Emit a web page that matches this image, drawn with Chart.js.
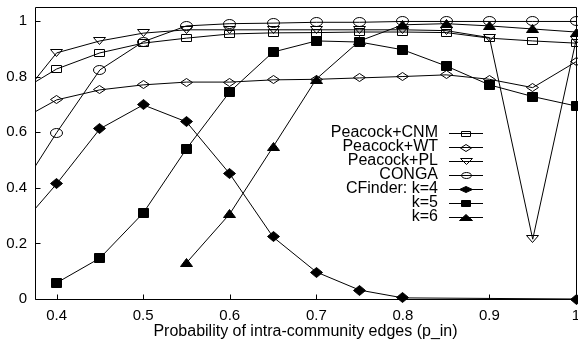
<!DOCTYPE html>
<html lang="en">
<head>
<meta charset="UTF-8" />
<title>Accuracy vs probability of intra-community edges</title>
<script src="https://cdn.jsdelivr.net/npm/chart.js@4.4.1/dist/chart.umd.min.js"></script>
<style>
  * { margin: 0; padding: 0; }
  body { background: #fff; }
  #wrap { width: 578px; height: 343px; }
</style>
</head>
<body>
<div id="wrap"><canvas id="chart" width="578" height="343"></canvas></div>
<script>
// p_in values (0.35 lies left of the visible range, lines get clipped there)
const pIn = [0.35, 0.4, 0.45, 0.5, 0.55, 0.6, 0.65, 0.7, 0.75, 0.8, 0.85, 0.9, 0.95, 1.0];
const xTicks = [0.4, 0.5, 0.6, 0.7, 0.8, 0.9, 1.0];
const yTicks = [0, 0.2, 0.4, 0.6, 0.8, 1];

const peacockCNM = [0.733, 0.827, 0.885, 0.92, 0.938, 0.953, 0.957, 0.958, 0.96, 0.96, 0.958, 0.938, 0.928, 0.92];
const peacockWT  = [0.63, 0.716, 0.752, 0.77, 0.78, 0.78, 0.788, 0.79, 0.795, 0.8, 0.806, 0.79, 0.76, 0.853];
const peacockPL  = [0.691, 0.885, 0.928, 0.956, 0.968, 0.968, 0.968, 0.968, 0.968, 0.968, 0.965, 0.94, 0.215, 0.93];
const conga      = [0.354, 0.598, 0.824, 0.925, 0.982, 0.99, 0.992, 0.995, 0.995, 0.998, 0.998, 0.998, 0.998, 0.998];
const cfinderK4  = [0.234, 0.414, 0.612, 0.698, 0.637, 0.45, 0.223, 0.097, 0.032, 0.004, null, null, null, 0.0];
const cfinderK5  = [null, 0.058, 0.147, 0.309, 0.54, 0.745, 0.888, 0.928, 0.924, 0.896, 0.838, 0.77, 0.728, 0.694];
const cfinderK6  = [null, null, null, null, 0.13, 0.306, 0.547, 0.791, 0.928, 0.986, 0.99, 0.982, 0.971, 0.96];

const FONT = '"Liberation Sans", Arial, Helvetica, sans-serif';

// gnuplot-like point symbols, a bit wider than tall like the original
function marker(shape, w, h, filled) {
  const c = document.createElement('canvas');
  c.width = w + 1;
  c.height = h + 1;
  const g = c.getContext('2d');
  const x0 = 0.5, y0 = 0.5, x1 = w + 0.5, y1 = h + 0.5;
  const cx = (x0 + x1) / 2, cy = (y0 + y1) / 2;
  g.beginPath();
  if (shape === 'square') {
    g.rect(x0, y0, w, h);
  } else if (shape === 'diamond') {
    g.moveTo(cx, y0); g.lineTo(x1, cy); g.lineTo(cx, y1); g.lineTo(x0, cy); g.closePath();
  } else if (shape === 'down') {
    g.moveTo(x0, y0); g.lineTo(x1, y0); g.lineTo(cx, y1); g.closePath();
  } else if (shape === 'up') {
    g.moveTo(cx, y0); g.lineTo(x1, y1); g.lineTo(x0, y1); g.closePath();
  } else {
    g.ellipse(cx, cy, w / 2, h / 2, 0, 0, Math.PI * 2);
  }
  g.lineWidth = 1;
  g.strokeStyle = '#000';
  g.fillStyle = '#000';
  if (filled) g.fill();
  g.stroke();
  return c;
}

const series = [
  { label: 'Peacock+CNM',  values: peacockCNM, sym: marker('square', 10, 7, false),  key: marker('square', 9, 5, false) },
  { label: 'Peacock+WT',   values: peacockWT,  sym: marker('diamond', 12, 8, false), key: marker('diamond', 11, 7, false) },
  { label: 'Peacock+PL',   values: peacockPL,  sym: marker('down', 12, 7, false),    key: marker('down', 12, 6, false) },
  { label: 'CONGA',        values: conga,      sym: marker('circle', 12, 9, false),  key: marker('circle', 10, 6, false) },
  { label: 'CFinder: k=4', values: cfinderK4,  sym: marker('diamond', 12, 10, true), key: marker('diamond', 13, 6, true) },
  { label: 'k=5',          values: cfinderK5,  sym: marker('square', 10, 9, true),   key: marker('square', 9, 6, true) },
  { label: 'k=6',          values: cfinderK6,  sym: marker('up', 12, 8, true),       key: marker('up', 13, 6, true) }
];

const datasets = series.map(s => ({
  label: s.label,
  data: pIn.map((x, i) => ({ x: x, y: s.values[i] })),
  borderColor: '#000',
  borderWidth: 1,
  pointRadius: 0,
  pointHoverRadius: 0,
  spanGaps: true,
  tension: 0,
  clip: { left: 0, top: false, right: false, bottom: false }
}));

// symbols placed on the pixel grid at the positions the scales give each point
const symbolPlugin = {
  id: 'symbols',
  afterDatasetsDraw(chart) {
    const ctx = chart.ctx;
    const a = chart.chartArea;
    series.forEach((s, i) => {
      const meta = chart.getDatasetMeta(i);
      meta.data.forEach((pt, j) => {
        if (s.values[j] === null || pt.x < a.left - 0.5) return;
        ctx.drawImage(s.sym, Math.round(pt.x - s.sym.width / 2), Math.round(pt.y - s.sym.height / 2));
      });
    });
  }
};

// border box with inward ticks on the left and bottom
const framePlugin = {
  id: 'frame',
  afterDatasetsDraw(chart) {
    const ctx = chart.ctx;
    const a = chart.chartArea;
    const xs = chart.scales.x, ys = chart.scales.y;
    const L = Math.round(a.left) + 0.5, R = Math.round(a.right) + 0.5;
    const T = Math.round(a.top) + 0.5, B = Math.round(a.bottom) + 0.5;
    ctx.save();
    ctx.strokeStyle = '#000';
    ctx.lineWidth = 1;
    ctx.beginPath();
    ctx.rect(L, T, R - L, B - T);
    xTicks.forEach(v => {
      const px = Math.round(xs.getPixelForValue(v)) + 0.5;
      ctx.moveTo(px, B); ctx.lineTo(px, B - 5);
    });
    yTicks.forEach(v => {
      const py = Math.round(ys.getPixelForValue(v)) + 0.5;
      ctx.moveTo(L, py); ctx.lineTo(L + 5, py);
    });
    ctx.stroke();
    ctx.restore();
  }
};

// key in the gnuplot layout: right-aligned text, sample line to its right
const keyPlugin = {
  id: 'key',
  afterDatasetsDraw(chart) {
    const ctx = chart.ctx;
    ctx.save();
    ctx.font = '16px ' + FONT;
    ctx.textAlign = 'right';
    ctx.textBaseline = 'middle';
    ctx.fillStyle = '#000';
    ctx.strokeStyle = '#000';
    ctx.lineWidth = 1;
    series.forEach((s, i) => {
      const y = 133 + i * 14;
      ctx.fillText(s.label, 438, y);
      ctx.beginPath();
      ctx.moveTo(449, y + 0.5);
      ctx.lineTo(483, y + 0.5);
      ctx.stroke();
      ctx.drawImage(s.key, Math.round(466 - s.key.width / 2), Math.round(y + 0.5 - s.key.height / 2));
    });
    ctx.restore();
  }
};

new Chart(document.getElementById('chart'), {
  type: 'line',
  data: { datasets: datasets },
  options: {
    responsive: false,
    animation: false,
    layout: { padding: { top: 7, right: 2, left: 0, bottom: 0 } },
    plugins: {
      legend: { display: false },
      tooltip: { enabled: false }
    },
    scales: {
      x: {
        type: 'linear',
        min: 0.375,
        max: 1.0,
        grid: { display: false, drawTicks: false },
        border: { display: false },
        afterBuildTicks: scale => { scale.ticks = xTicks.map(v => ({ value: v })); },
        afterFit: scale => { scale.height = 44; scale.paddingLeft = 0; scale.paddingRight = 0; },
        ticks: {
          color: '#000',
          padding: 8,
          maxRotation: 0,
          font: { family: FONT, size: 15 },
          callback: v => (v === 1 ? '1' : v.toFixed(1))
        },
        title: {
          display: true,
          text: 'Probability of intra-community edges (p_in)',
          color: '#000',
          font: { family: FONT, size: 16 },
          padding: { top: 0, bottom: 2 }
        }
      },
      y: {
        min: 0,
        max: 1.05,
        grid: { display: false, drawTicks: false },
        border: { display: false },
        afterBuildTicks: scale => { scale.ticks = yTicks.map(v => ({ value: v })); },
        afterFit: scale => { scale.width = 35; scale.paddingTop = 0; scale.paddingBottom = 0; },
        ticks: {
          color: '#000',
          padding: 8,
          font: { family: FONT, size: 15 },
          callback: v => (v === 0 || v === 1 ? String(v) : v.toFixed(1))
        }
      }
    }
  },
  plugins: [symbolPlugin, framePlugin, keyPlugin]
});
</script>
</body>
</html>
